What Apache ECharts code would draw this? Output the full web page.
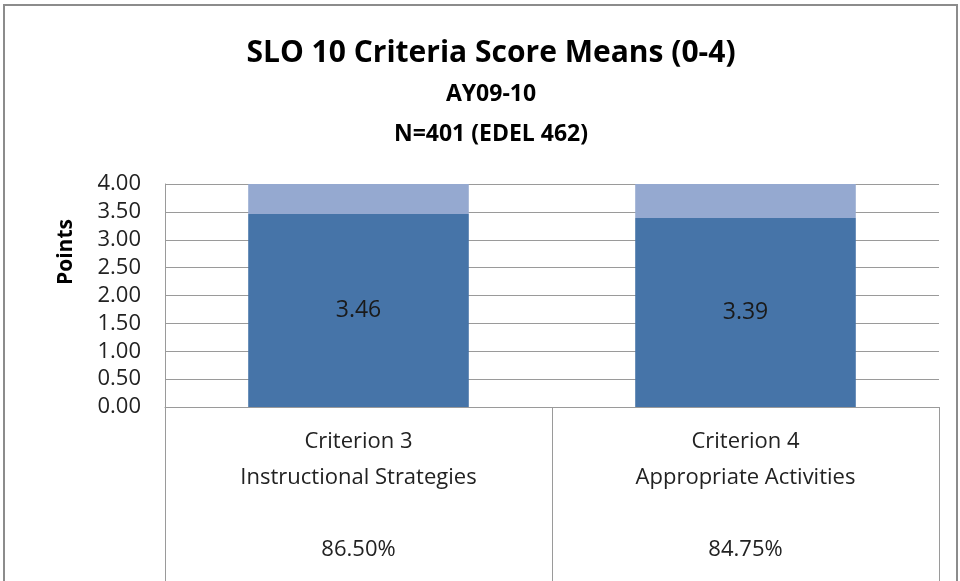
<!DOCTYPE html>
<html>
<head>
<meta charset="utf-8">
<script src="https://cdn.jsdelivr.net/npm/echarts@6/dist/echarts.min.js"></script>
<style>
  html, body { margin: 0; padding: 0; background: #fff; }
  #chart { width: 960px; height: 581px; }
</style>
</head>
<body>
<div id="chart"></div>
<script>
// chart data
const categories = ['Criterion 3\nInstructional Strategies\n\n86.50%', 'Criterion 4\nAppropriate Activities\n\n84.75%'];
const meanScores = [3.46, 3.39];
const remainder = [0.54, 0.61];
const yTicks = ['0.00', '0.50', '1.00', '1.50', '2.00', '2.50', '3.00', '3.50', '4.00'];

const font = 'Open Sans';

const option = {
  animation: false,
  backgroundColor: '#fff',
  textStyle: { fontFamily: font },
  graphic: [
    {
      type: 'rect',
      shape: { x: 4, y: 5, width: 953, height: 620 },
      style: { fill: 'none', stroke: '#8c8c8c', lineWidth: 2 },
      silent: true
    },
    {
      // y axis title, sits above the axis middle like the original
      type: 'text',
      x: 66, y: 252,
      rotation: Math.PI / 2,
      style: {
        text: 'Points', fontFamily: font, fontSize: 21, fontWeight: 'bold',
        fill: '#000', align: 'center', verticalAlign: 'middle'
      },
      silent: true
    }
  ],
  title: [
    {
      text: 'SLO 10 Criteria Score Means (0-4)',
      left: 486, top: 33, textAlign: 'center',
      textStyle: { fontFamily: font, fontSize: 30, fontWeight: 'bold', color: '#000' }
    },
    {
      text: 'AY09-10',
      left: 486, top: 78, textAlign: 'center',
      textStyle: { fontFamily: font, fontSize: 23, fontWeight: 'bold', color: '#000' }
    },
    {
      text: 'N=401 (EDEL 462)',
      left: 486, top: 118, textAlign: 'center',
      textStyle: { fontFamily: font, fontSize: 23, fontWeight: 'bold', color: '#000' }
    }
  ],
  grid: { left: 165, right: 21, top: 184, bottom: 174 },
  xAxis: {
    type: 'category',
    data: categories,
    axisLine: { show: true, lineStyle: { color: '#9a9a9a', width: 1 } },
    axisTick: { show: true, length: 180, lineStyle: { color: '#9a9a9a' } },
    axisLabel: {
      fontFamily: font, fontSize: 22, color: '#222', lineHeight: 36,
      margin: 17, interval: 0
    }
  },
  yAxis: {
    type: 'value',
    min: 0, max: 4, interval: 0.5,
    axisLine: { show: true, lineStyle: { color: '#9a9a9a' } },
    axisTick: { show: false },
    axisLabel: {
      fontFamily: font, fontSize: 22, color: '#222', margin: 24,
      formatter: (v) => yTicks[Math.round(v / 0.5)]
    },
    splitLine: { lineStyle: { color: '#9a9a9a', width: 1 } }
  },
  series: [
    {
      name: 'Mean',
      type: 'bar',
      stack: 'total',
      barWidth: '57%',
      data: meanScores,
      itemStyle: { color: '#4674A8' },
      label: {
        show: true, position: 'inside',
        fontFamily: font, fontSize: 23, color: '#1a1a1a',
        formatter: (p) => p.value.toFixed(2)
      }
    },
    {
      name: 'Remainder',
      type: 'bar',
      stack: 'total',
      barWidth: '57%',
      data: remainder,
      itemStyle: { color: '#95A9D0' }
    }
  ]
};

const myChart = echarts.init(document.getElementById('chart'));
myChart.setOption(option);
</script>
</body>
</html>
